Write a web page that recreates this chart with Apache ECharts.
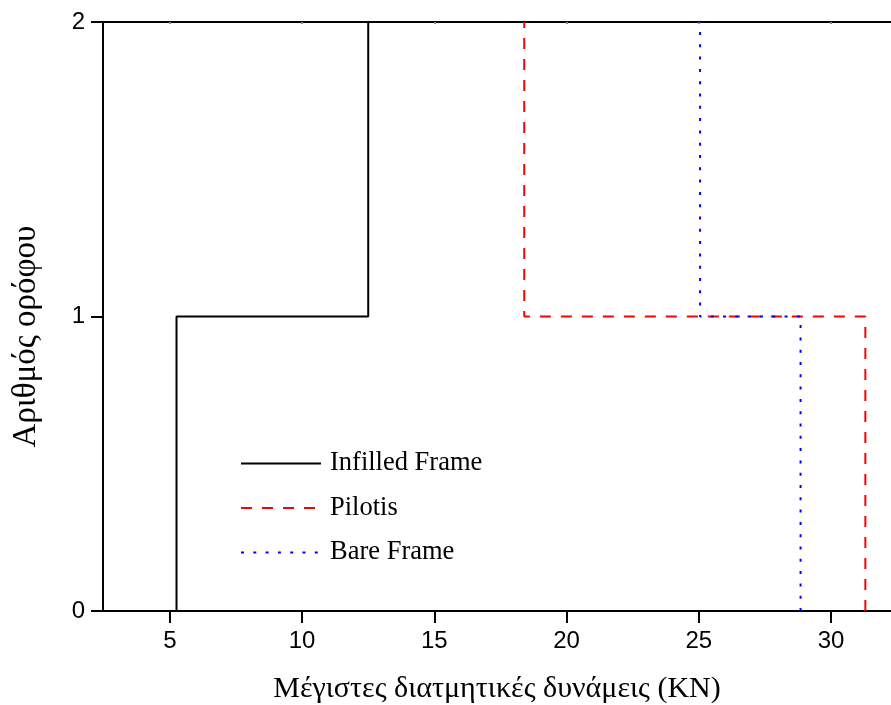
<!DOCTYPE html>
<html>
<head>
<meta charset="utf-8">
<script src="https://cdn.jsdelivr.net/npm/echarts@6/dist/echarts.min.js"></script>
<style>
  html, body { margin: 0; padding: 0; background: #fff; }
  #chart { width: 891px; height: 705px; }
</style>
</head>
<body>
<div id="chart"></div>
<script>
// Storey levels (floor numbers) and maximum storey shear per storey (KN)
const storeys = [0, 1, 2];
const infilledFrame = [5.25, 12.5];
const pilotis = [31.3, 18.4];
const bareFrame = [28.85, 25.05];
const xTicks = [5, 10, 15, 20, 25, 30];
const yTicks = [0, 1, 2];

// Turn per-storey shear values into a stepped profile along the height
function stepProfile(values) {
  const pts = [];
  for (let i = 0; i < values.length; i++) {
    pts.push([values[i], storeys[i]]);
    pts.push([values[i], storeys[i + 1]]);
  }
  return pts;
}

const serif = 'Liberation Serif, Times New Roman, serif';
const sans = 'Liberation Sans, Arial, sans-serif';

const chart = echarts.init(document.getElementById('chart'), null, { renderer: 'canvas' });
chart.setOption({
  animation: false,
  backgroundColor: '#fff',
  grid: { left: 103, right: 0, top: 22, bottom: 94, outerBoundsMode: 'none' },
  legend: {
    show: true,
    orient: 'vertical',
    left: 240,
    top: 450,
    padding: 0,
    itemWidth: 80,
    itemHeight: 20,
    itemGap: 17.5,
    itemStyle: { opacity: 0 },
    textStyle: { fontFamily: serif, fontSize: 26.5, color: '#000', padding: [0, 0, 0, 4] },
    data: ['Infilled Frame', 'Pilotis', 'Bare Frame']
  },
  xAxis: [{
    type: 'value',
    position: 'bottom',
    min: 2.47,
    max: 32.27,
    name: 'Μέγιστες διατμητικές δυνάμεις (KN)',
    nameLocation: 'middle',
    nameGap: 63,
    nameTextStyle: { fontFamily: serif, fontSize: 30, color: '#000' },
    axisLine: { show: true, onZero: false, lineStyle: { color: '#000', width: 2 } },
    axisTick: { show: true, length: 12, customValues: xTicks, lineStyle: { color: '#000', width: 2 } },
    axisLabel: { customValues: xTicks, margin: 18, fontFamily: sans, fontSize: 24, color: '#000' },
    splitLine: { show: false }
  }, {
    type: 'value',
    position: 'top',
    min: 2.47,
    max: 32.27,
    axisLine: { show: true, onZero: false, lineStyle: { color: '#000', width: 2 } },
    axisTick: { show: true, inside: true, length: 2, customValues: xTicks, lineStyle: { color: '#888', width: 2 } },
    axisLabel: { show: false },
    splitLine: { show: false }
  }],
  yAxis: {
    type: 'value',
    min: 0,
    max: 2,
    interval: 1,
    name: 'Αριθμός ορόφου',
    nameLocation: 'middle',
    nameGap: 60,
    nameRotate: 90,
    nameTextStyle: { fontFamily: serif, fontSize: 33, color: '#000', padding: [0, 40, 0, 0] },
    axisLine: { show: true, onZero: false, lineStyle: { color: '#000', width: 2 } },
    axisTick: { show: true, length: 12, lineStyle: { color: '#000', width: 2 } },
    axisLabel: { margin: 18, fontFamily: sans, fontSize: 24, color: '#000',
      formatter: v => (yTicks.indexOf(v) >= 0 ? String(v) : '') },
    splitLine: { show: false }
  },
  series: [{
    name: 'Infilled Frame',
    type: 'line',
    symbol: 'none',
    color: '#000',
    lineStyle: { color: '#000', width: 2, type: 'solid' },
    data: stepProfile(infilledFrame)
  }, {
    name: 'Pilotis',
    type: 'line',
    symbol: 'none',
    color: '#ff0000',
    lineStyle: { color: '#ff0000', width: 2, type: [11, 10] },
    data: stepProfile(pilotis)
  }, {
    name: 'Bare Frame',
    type: 'line',
    symbol: 'none',
    color: '#0000ff',
    lineStyle: { color: '#0000ff', width: 2, type: [3, 9.3] },
    data: stepProfile(bareFrame)
  }]
});
</script>
</body>
</html>
